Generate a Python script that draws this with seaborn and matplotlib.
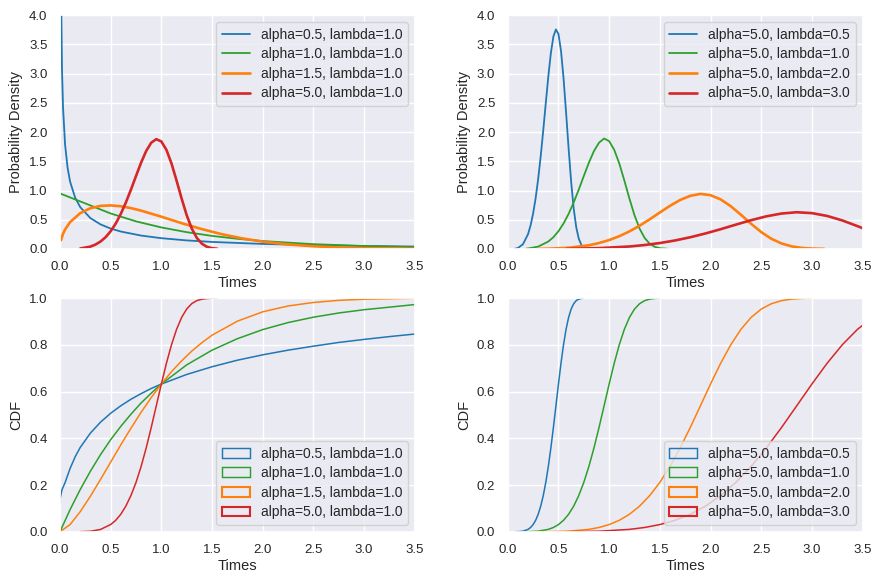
import matplotlib
matplotlib.use("Agg")
import matplotlib.pyplot as plt
from matplotlib.patches import Patch
import seaborn as sns

# colours / labels
colors = ["tab:blue", "tab:green", "tab:orange", "tab:red"]
labels_left = ["alpha=0.5, lambda=1.0", "alpha=1.0, lambda=1.0",
               "alpha=1.5, lambda=1.0", "alpha=5.0, lambda=1.0"]
labels_right = ["alpha=5.0, lambda=0.5", "alpha=5.0, lambda=1.0",
                "alpha=5.0, lambda=2.0", "alpha=5.0, lambda=3.0"]

# ---- top left: pdf, lambda=1.0
pdf_l_x1 = [0.005, 0.01, 0.02, 0.03, 0.05, 0.075, 0.1, 0.15, 0.2, 0.3, 0.4, 0.5, 0.6, 0.8, 1.0,
            1.25, 1.5, 2.0, 2.5, 3.0, 3.5]
pdf_l_y1 = [6.59, 4.52, 3.07, 2.43, 1.79, 1.39, 1.15, 0.876, 0.715, 0.528, 0.420, 0.349, 0.298,
            0.229, 0.184, 0.146, 0.120, 0.086, 0.065, 0.051, 0.041]
pdf_l_x2 = [0.0, 0.25, 0.5, 0.75, 1.0, 1.25, 1.5, 1.75, 2.0, 2.5, 3.0, 3.5]
pdf_l_y2 = [0.95, 0.779, 0.607, 0.472, 0.368, 0.287, 0.223, 0.174, 0.135, 0.082, 0.050, 0.030]
pdf_l_x3 = [0.01, 0.03, 0.05, 0.1, 0.2, 0.3, 0.4, 0.5, 0.6, 0.7, 0.8, 1.0, 1.2, 1.4, 1.6, 1.8,
            2.0, 2.25, 2.5, 2.75, 3.0, 3.5]
pdf_l_y3 = [0.15, 0.258, 0.332, 0.460, 0.613, 0.697, 0.737, 0.745, 0.730, 0.699, 0.656, 0.552,
            0.441, 0.339, 0.251, 0.180, 0.125, 0.077, 0.046, 0.026, 0.014, 0.004]
pdf_l_x4 = [0.2, 0.3, 0.35, 0.4, 0.45, 0.5, 0.55, 0.6, 0.65, 0.7, 0.75, 0.8, 0.85, 0.9, 0.95,
            1.0, 1.05, 1.1, 1.15, 1.2, 1.25, 1.3, 1.35, 1.4, 1.45, 1.5, 1.55]
pdf_l_y4 = [0.008, 0.040, 0.075, 0.127, 0.201, 0.303, 0.435, 0.600, 0.795, 1.015, 1.248, 1.476,
            1.675, 1.818, 1.879, 1.839, 1.696, 1.463, 1.170, 0.862, 0.577, 0.349, 0.188, 0.089,
            0.036, 0.013, 0.004]

# ---- top right: pdf, alpha=5.0
pdf_r_x1 = [0.07, 0.1, 0.15, 0.2, 0.225, 0.25, 0.275, 0.3, 0.325, 0.35, 0.375, 0.4, 0.425, 0.45,
            0.475, 0.5, 0.525, 0.55, 0.575, 0.6, 0.625, 0.65, 0.675, 0.7, 0.725]
pdf_r_y1 = [0.004, 0.016, 0.081, 0.253, 0.403, 0.606, 0.870, 1.199, 1.590, 2.030, 2.496, 2.952,
            3.350, 3.635, 3.757, 3.679, 3.392, 2.925, 2.340, 1.723, 1.154, 0.697, 0.375, 0.177,
            0.073]
pdf_r_x2 = [0.18, 0.2, 0.3, 0.4, 0.45, 0.5, 0.55, 0.6, 0.65, 0.7, 0.75, 0.8, 0.85, 0.9, 0.95,
            1.0, 1.05, 1.1, 1.15, 1.2, 1.25, 1.3, 1.35, 1.4, 1.45, 1.5, 1.58]
pdf_r_y2 = [0.005, 0.008, 0.040, 0.127, 0.201, 0.303, 0.435, 0.600, 0.795, 1.015, 1.248, 1.476,
            1.675, 1.818, 1.890, 1.845, 1.696, 1.463, 1.170, 0.862, 0.577, 0.349, 0.188, 0.089,
            0.036, 0.013, 0.002]
pdf_r_x3 = [0.3, 0.4, 0.6, 0.8, 0.9, 1.0, 1.1, 1.2, 1.3, 1.4, 1.5, 1.6, 1.7, 1.8, 1.9, 2.0, 2.1,
            2.2, 2.3, 2.4, 2.5, 2.6, 2.7, 2.8, 2.9, 3.0, 3.12]
pdf_r_y3 = [0.001, 0.004, 0.020, 0.063, 0.101, 0.152, 0.218, 0.300, 0.397, 0.507, 0.624, 0.738,
            0.838, 0.909, 0.942, 0.920, 0.848, 0.731, 0.585, 0.431, 0.289, 0.174, 0.094, 0.044,
            0.018, 0.006, 0.002]
pdf_r_x4 = [0.58, 0.6, 0.9, 1.2, 1.35, 1.5, 1.65, 1.8, 1.95, 2.1, 2.25, 2.4, 2.55, 2.7, 2.85, 3.0,
            3.15, 3.3, 3.45, 3.6]
pdf_r_y4 = [0.002, 0.003, 0.014, 0.042, 0.067, 0.101, 0.145, 0.200, 0.265, 0.338, 0.416, 0.492,
            0.558, 0.606, 0.628, 0.613, 0.565, 0.488, 0.390, 0.287]

# ---- bottom left: cdf, lambda=1.0
cdf_l_x1 = [0.0, 0.0, 0.02, 0.05, 0.1, 0.15, 0.2, 0.3, 0.4, 0.5, 0.6, 0.7, 0.8, 0.9, 1.0, 1.25,
            1.5, 1.75, 2.0, 2.25, 2.5, 2.75, 3.0, 3.25, 3.5]
cdf_l_y1 = [0.12, 0.16, 0.18, 0.21, 0.271, 0.321, 0.361, 0.422, 0.469, 0.507, 0.539, 0.567, 0.591,
            0.613, 0.632, 0.673, 0.706, 0.734, 0.757, 0.777, 0.794, 0.810, 0.823, 0.835, 0.846]
cdf_l_x2 = [0.0, 0.1, 0.2, 0.3, 0.4, 0.5, 0.6, 0.7, 0.8, 0.9, 1.0, 1.25, 1.5, 1.75, 2.0, 2.25,
            2.5, 2.75, 3.0, 3.25, 3.5]
cdf_l_y2 = [0.0, 0.095, 0.181, 0.259, 0.330, 0.394, 0.451, 0.503, 0.551, 0.593, 0.632, 0.714,
            0.777, 0.826, 0.865, 0.895, 0.918, 0.936, 0.950, 0.961, 0.972]
cdf_l_x3 = [0.0, 0.1, 0.2, 0.3, 0.4, 0.5, 0.6, 0.7, 0.8, 0.9, 1.0, 1.1, 1.2, 1.3, 1.4, 1.5, 1.75,
            2.0, 2.25, 2.5, 2.75, 3.0, 3.25, 3.5]
cdf_l_y3 = [0.0, 0.031, 0.086, 0.152, 0.224, 0.298, 0.372, 0.443, 0.511, 0.574, 0.632, 0.685,
            0.731, 0.773, 0.809, 0.841, 0.901, 0.941, 0.966, 0.981, 0.990, 0.995, 0.997, 0.999]
cdf_l_x4 = [0.2, 0.3, 0.4, 0.5, 0.55, 0.6, 0.65, 0.7, 0.75, 0.8, 0.85, 0.9, 0.95, 1.0, 1.05, 1.1,
            1.15, 1.2, 1.25, 1.3, 1.35, 1.4, 1.45, 1.5, 1.55]
cdf_l_y4 = [0.0003, 0.002, 0.010, 0.031, 0.049, 0.075, 0.110, 0.155, 0.211, 0.279, 0.358, 0.446,
            0.539, 0.632, 0.721, 0.800, 0.866, 0.917, 0.953, 0.976, 0.989, 0.995, 0.998, 0.9995,
            1.0]

# ---- bottom right: cdf, alpha=5.0
cdf_r_x1 = [0.075, 0.1, 0.15, 0.2, 0.225, 0.25, 0.275, 0.3, 0.325, 0.35, 0.375, 0.4, 0.425, 0.45,
            0.475, 0.5, 0.525, 0.55, 0.575, 0.6, 0.625, 0.65, 0.675, 0.7, 0.725, 0.75]
cdf_r_y1 = [0.0001, 0.0003, 0.0024, 0.0102, 0.0183, 0.0308, 0.049, 0.0748, 0.1095, 0.1547,
            0.2112, 0.2794, 0.3583, 0.4459, 0.5387, 0.6321, 0.7209, 0.8002, 0.8662, 0.9169,
            0.9527, 0.9756, 0.9887, 0.9954, 0.9984, 1.0]
cdf_r_x2 = [0.18, 0.2, 0.3, 0.4, 0.45, 0.5, 0.55, 0.6, 0.65, 0.7, 0.75, 0.8, 0.85, 0.9, 0.95, 1.0,
            1.05, 1.1, 1.15, 1.2, 1.25, 1.3, 1.35, 1.4, 1.45, 1.5]
cdf_r_y2 = [0.0002, 0.0003, 0.0024, 0.0102, 0.0183, 0.0308, 0.049, 0.0748, 0.1095, 0.1547,
            0.2112, 0.2794, 0.3583, 0.4459, 0.5387, 0.6321, 0.7209, 0.8002, 0.8662, 0.9169,
            0.9527, 0.9756, 0.9887, 0.9954, 0.9984, 1.0]
cdf_r_x3 = [0.3, 0.4, 0.6, 0.8, 0.9, 1.0, 1.1, 1.2, 1.3, 1.4, 1.5, 1.6, 1.7, 1.8, 1.9, 2.0, 2.1,
            2.2, 2.3, 2.4, 2.5, 2.6, 2.7, 2.8, 2.9, 3.0]
cdf_r_y3 = [0.0001, 0.0003, 0.0024, 0.0102, 0.0183, 0.0308, 0.049, 0.0748, 0.1095, 0.1547,
            0.2112, 0.2794, 0.3583, 0.4459, 0.5387, 0.6321, 0.7209, 0.8002, 0.8662, 0.9169,
            0.9527, 0.9756, 0.9887, 0.9954, 0.9984, 1.0]
cdf_r_x4 = [0.58, 0.6, 0.9, 1.2, 1.35, 1.5, 1.65, 1.8, 1.95, 2.1, 2.25, 2.4, 2.55, 2.7, 2.85, 3.0,
            3.15, 3.3, 3.45, 3.6]
cdf_r_y4 = [0.0003, 0.0003, 0.0024, 0.0102, 0.0183, 0.0308, 0.049, 0.0748, 0.1095, 0.1547,
            0.2112, 0.2794, 0.3583, 0.4459, 0.5387, 0.6321, 0.7209, 0.8002, 0.8662, 0.9169]

sns.set_theme(style="darkgrid")
plt.rcParams["font.family"] = ["Liberation Sans", "DejaVu Sans"]

fig, axes = plt.subplots(2, 2, figsize=(8.82, 5.85), dpi=100)
fig.subplots_adjust(left=0.068, right=0.978, top=0.974, bottom=0.091, wspace=0.262, hspace=0.21)

pdf_left = [(pdf_l_x1, pdf_l_y1), (pdf_l_x2, pdf_l_y2), (pdf_l_x3, pdf_l_y3), (pdf_l_x4, pdf_l_y4)]
pdf_right = [(pdf_r_x1, pdf_r_y1), (pdf_r_x2, pdf_r_y2), (pdf_r_x3, pdf_r_y3), (pdf_r_x4, pdf_r_y4)]
cdf_left = [(cdf_l_x1, cdf_l_y1), (cdf_l_x2, cdf_l_y2), (cdf_l_x3, cdf_l_y3), (cdf_l_x4, cdf_l_y4)]
cdf_right = [(cdf_r_x1, cdf_r_y1), (cdf_r_x2, cdf_r_y2), (cdf_r_x3, cdf_r_y3), (cdf_r_x4, cdf_r_y4)]
pdf_lw = [1.3, 1.3, 1.9, 1.9]

for ax, series, labels in [(axes[0, 0], pdf_left, labels_left), (axes[0, 1], pdf_right, labels_right)]:
    for (x, y), c, lab, lw in zip(series, colors, labels, pdf_lw):
        sns.lineplot(x=x, y=y, color=c, label=lab, lw=lw, ax=ax, sort=False)
    ax.set_ylim(0, 4)
    ax.set_yticks([0, 0.5, 1, 1.5, 2, 2.5, 3, 3.5, 4])
    ax.set_ylabel("Probability Density", fontsize=10.5)
    ax.legend(loc="upper right", fontsize=10, labelspacing=0.4)

for ax, series, labels in [(axes[1, 0], cdf_left, labels_left), (axes[1, 1], cdf_right, labels_right)]:
    for (x, y), c in zip(series, colors):
        sns.lineplot(x=x, y=y, color=c, lw=1.1, ax=ax, sort=False, legend=False)
    ax.set_ylim(0, 1)
    ax.set_yticks([0, 0.2, 0.4, 0.6, 0.8, 1.0])
    ax.set_ylabel("CDF", fontsize=10.5)
    handles = [Patch(facecolor="none", edgecolor=c, lw=lw * 0.8) for c, lw in zip(colors, pdf_lw)]
    ax.legend(handles, labels, loc="lower right", fontsize=10, labelspacing=0.4)

for ax in axes.flat:
    ax.set_xlim(0, 3.5)
    ax.set_xticks([0, 0.5, 1, 1.5, 2, 2.5, 3, 3.5])
    ax.set_xlabel("Times", fontsize=10.5, labelpad=2)
    ax.tick_params(labelsize=9.5, pad=3)
    ax.yaxis.set_major_formatter(matplotlib.ticker.FormatStrFormatter("%.1f"))
    ax.xaxis.set_major_formatter(matplotlib.ticker.FormatStrFormatter("%.1f"))

fig.savefig("out.png", dpi=100)
